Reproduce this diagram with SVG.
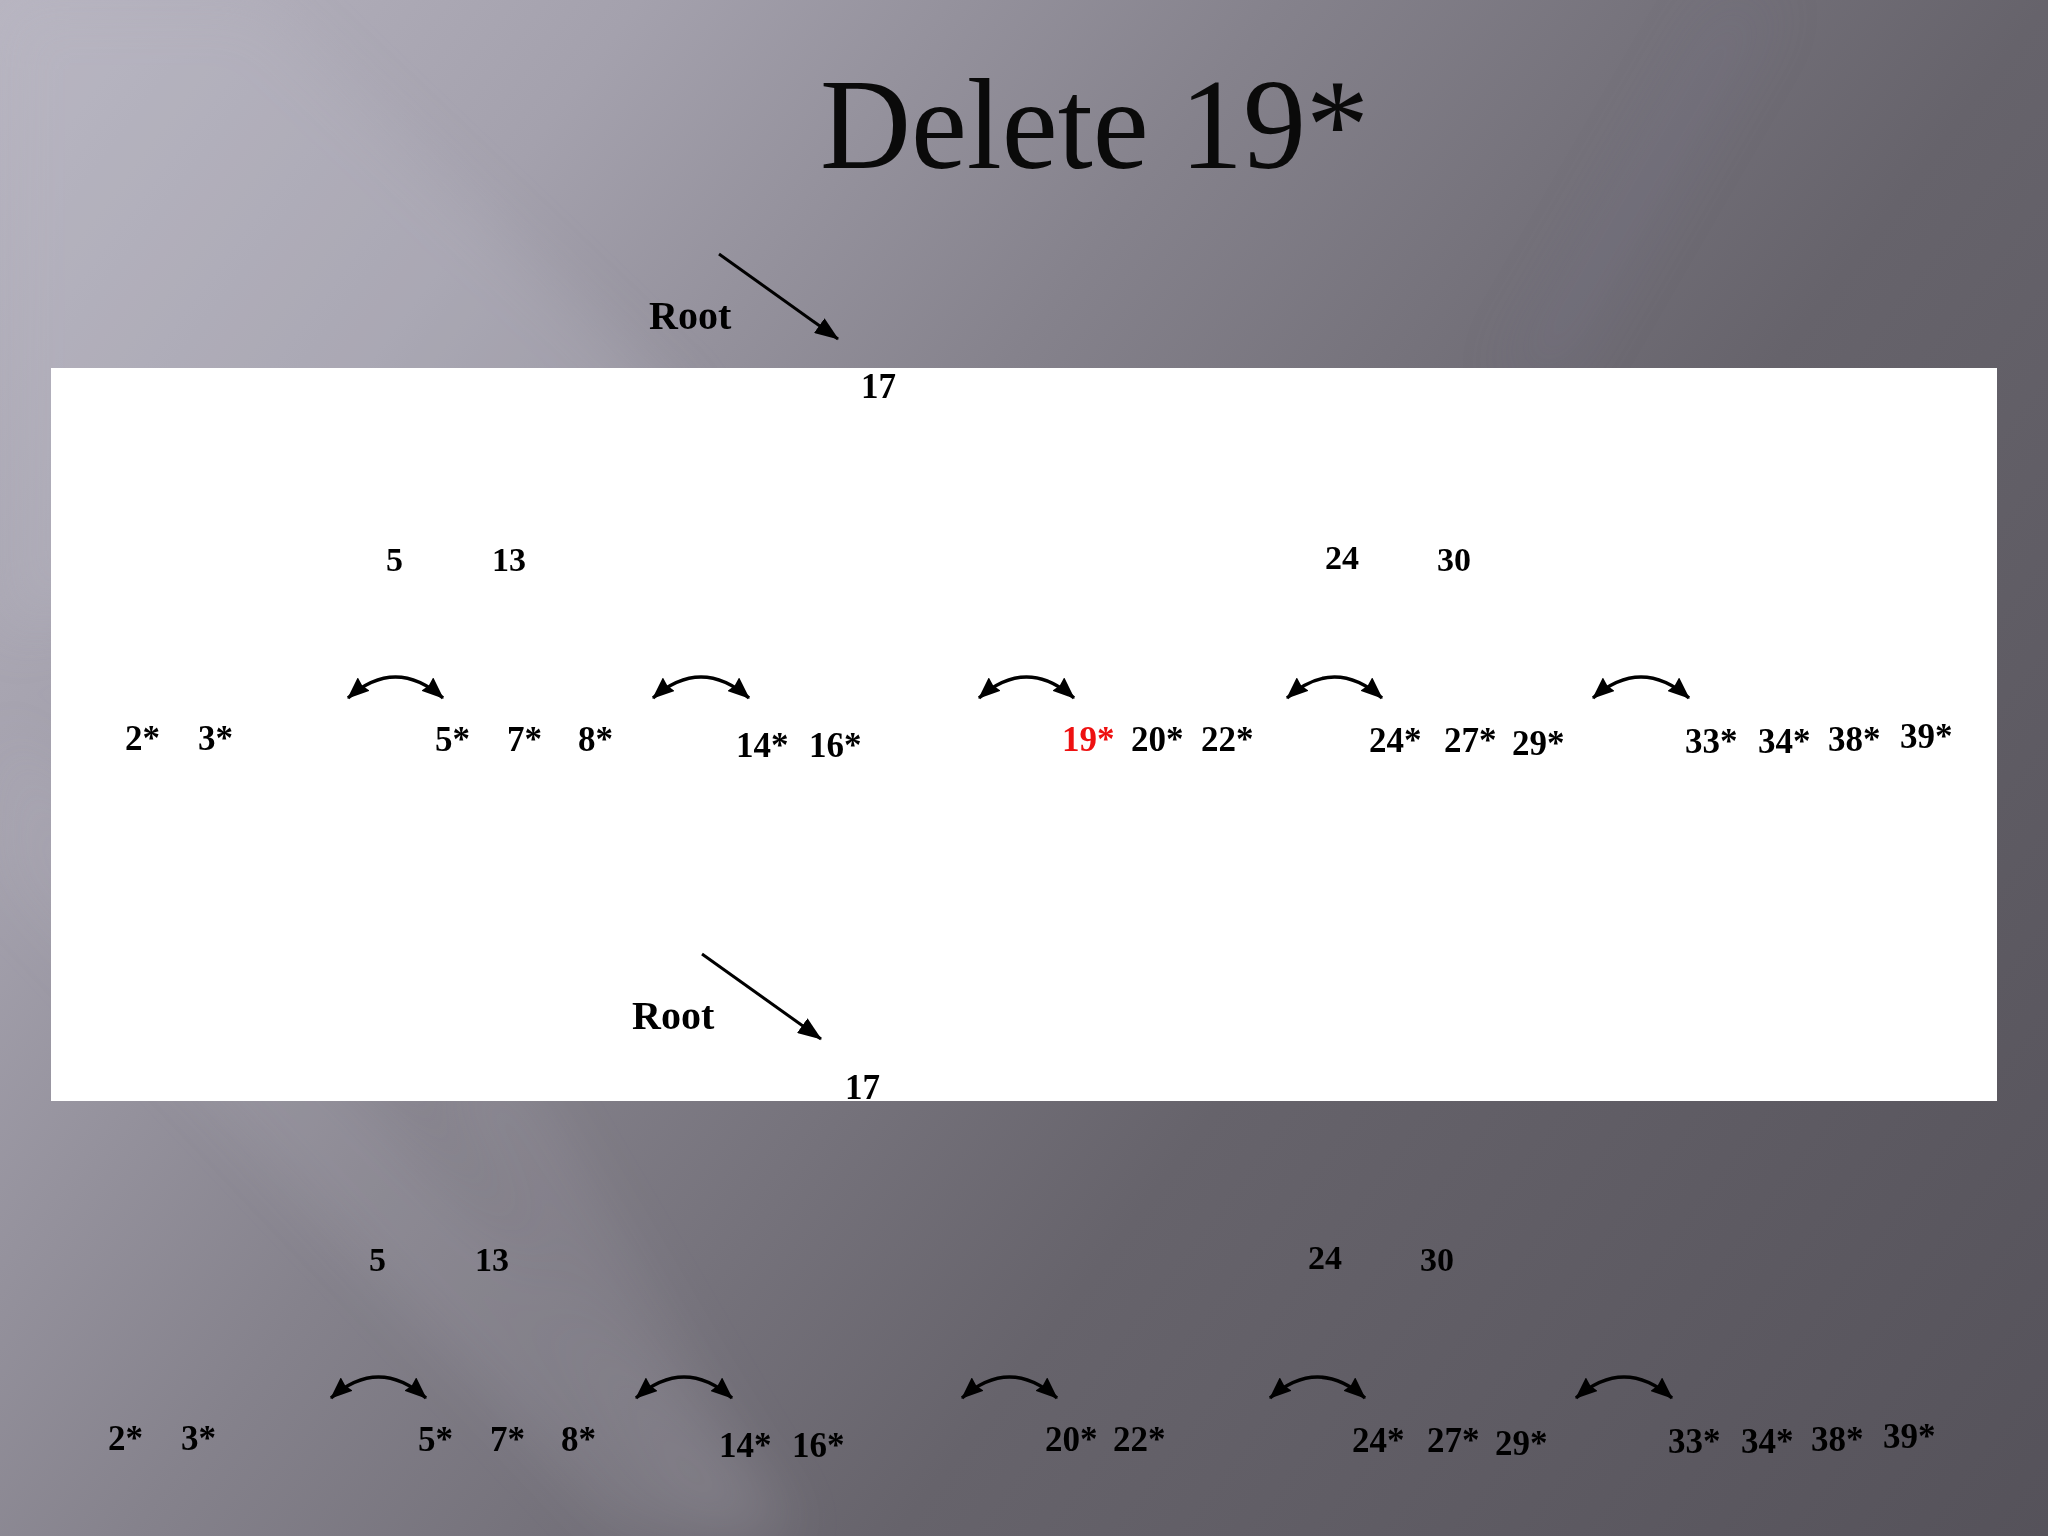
<svg xmlns="http://www.w3.org/2000/svg" width="2048" height="1536" viewBox="0 0 2048 1536">
<defs>
<linearGradient id="bg" gradientUnits="userSpaceOnUse" x1="0" y1="0" x2="2048" y2="1536">
<stop offset="0" stop-color="#b8b5c1"/>
<stop offset="0.2" stop-color="#a4a1ad"/>
<stop offset="0.4" stop-color="#85828c"/>
<stop offset="0.64" stop-color="#66636b"/>
<stop offset="1" stop-color="#55525a"/>
</linearGradient>
<filter id="blur" x="-20%" y="-20%" width="140%" height="140%"><feGaussianBlur stdDeviation="30"/></filter>
<marker id="ah" markerUnits="userSpaceOnUse" markerWidth="22" markerHeight="18" viewBox="0 0 22 18" refX="21" refY="9" orient="auto-start-reverse">
<path d="M0,0 L22,9 L0,18 L2,9 z" fill="#000"/>
</marker>
<marker id="ahr" markerUnits="userSpaceOnUse" markerWidth="24" markerHeight="18" viewBox="0 0 24 18" refX="23" refY="9" orient="auto">
<path d="M0,0 L24,9 L0,18 z" fill="#000"/>
</marker>
<style>
.title{font-family:"Liberation Serif","Times New Roman",serif;font-size:130px;fill:#0a0a0a}
.lbl{font-family:"Liberation Serif","Times New Roman",serif;font-weight:bold;font-size:35px;fill:#000}
.inner{font-family:"Liberation Serif","Times New Roman",serif;font-weight:bold;font-size:34px;fill:#000}
.root{font-family:"Liberation Serif","Times New Roman",serif;font-weight:bold;font-size:40px;fill:#000}
.red{fill:#ee1111}
.arc{fill:none;stroke:#000;stroke-width:3.5;marker-start:url(#ah);marker-end:url(#ah)}
.ptr{fill:none;stroke:#000;stroke-width:3;marker-end:url(#ahr)}
</style>
</defs>

<rect x="0" y="0" width="2048" height="1536" fill="url(#bg)"/>
<g filter="url(#blur)" opacity="0.45">
<polygon points="0,0 260,0 700,420 0,640" fill="#bdbac6" opacity="0.6"/>
<polygon points="0,720 0,880 620,1536 800,1536" fill="#c4c1cc" opacity="0.3"/>
<polygon points="420,1060 520,1060 800,1536 700,1536" fill="#c4c1cc" opacity="0.25"/>
<polygon points="1500,380 1560,380 1780,0 1720,0" fill="#7a7890" opacity="0.4"/>
</g>

<rect x="51" y="368" width="1946" height="733" fill="#ffffff"/>

<text class="title" x="820" y="168" textLength="549" lengthAdjust="spacingAndGlyphs">Delete 19*</text>

<g id="connectors">
<line class="ptr" x1="719" y1="254" x2="838" y2="339"/>
<path class="arc" d="M348,698 Q395.5,656 443,698"/>
<path class="arc" d="M653,698 Q701,656 749,698"/>
<path class="arc" d="M979,698 Q1026.5,656 1074,698"/>
<path class="arc" d="M1287,698 Q1334.5,656 1382,698"/>
<path class="arc" d="M1593,698 Q1641,656 1689,698"/>
<line class="ptr" x1="702" y1="954" x2="821" y2="1039"/>
<path class="arc" d="M331,1398 Q378.5,1356 426,1398"/>
<path class="arc" d="M636,1398 Q684,1356 732,1398"/>
<path class="arc" d="M962,1398 Q1009.5,1356 1057,1398"/>
<path class="arc" d="M1270,1398 Q1317.5,1356 1365,1398"/>
<path class="arc" d="M1576,1398 Q1624,1356 1672,1398"/>
</g>

<g id="tree-before">
<g id="root-label-1"><text class="root" x="649" y="329">Root</text></g>
<g id="n17-1"><text class="lbl" x="861" y="398">17</text></g>
<g id="n5-13-1"><text class="inner" x="386" y="571">5</text><text class="inner" x="492" y="571">13</text></g>
<g id="n24-30-1"><text class="inner" x="1325" y="569">24</text><text class="inner" x="1437" y="571">30</text></g>
<g id="leaf-a-1"><text class="lbl" x="125" y="750">2*</text><text class="lbl" x="198" y="750">3*</text></g>
<g id="leaf-b-1"><text class="lbl" x="435" y="751">5*</text><text class="lbl" x="507" y="751">7*</text><text class="lbl" x="578" y="751">8*</text></g>
<g id="leaf-c-1"><text class="lbl" x="736" y="757">14*</text><text class="lbl" x="809" y="757">16*</text></g>
<g id="leaf-d-1"><text class="lbl red" x="1062" y="751">19*</text><text class="lbl" x="1131" y="751">20*</text><text class="lbl" x="1201" y="751">22*</text></g>
<g id="leaf-e-1"><text class="lbl" x="1369" y="752">24*</text><text class="lbl" x="1444" y="752">27*</text><text class="lbl" x="1512" y="755">29*</text></g>
<g id="leaf-f-1"><text class="lbl" x="1685" y="753">33*</text><text class="lbl" x="1758" y="753">34*</text><text class="lbl" x="1828" y="751">38*</text><text class="lbl" x="1900" y="748">39*</text></g>
</g>

<g id="tree-after">
<g id="root-label-2"><text class="root" x="632" y="1029">Root</text></g>
<g id="n17-2"><text class="lbl" x="845" y="1099">17</text></g>
<g id="n5-13-2"><text class="inner" x="369" y="1271">5</text><text class="inner" x="475" y="1271">13</text></g>
<g id="n24-30-2"><text class="inner" x="1308" y="1269">24</text><text class="inner" x="1420" y="1271">30</text></g>
<g id="leaf-a-2"><text class="lbl" x="108" y="1450">2*</text><text class="lbl" x="181" y="1450">3*</text></g>
<g id="leaf-b-2"><text class="lbl" x="418" y="1451">5*</text><text class="lbl" x="490" y="1451">7*</text><text class="lbl" x="561" y="1451">8*</text></g>
<g id="leaf-c-2"><text class="lbl" x="719" y="1457">14*</text><text class="lbl" x="792" y="1457">16*</text></g>
<g id="leaf-d-2"><text class="lbl" x="1045" y="1451">20*</text><text class="lbl" x="1113" y="1451">22*</text></g>
<g id="leaf-e-2"><text class="lbl" x="1352" y="1452">24*</text><text class="lbl" x="1427" y="1452">27*</text><text class="lbl" x="1495" y="1455">29*</text></g>
<g id="leaf-f-2"><text class="lbl" x="1668" y="1453">33*</text><text class="lbl" x="1741" y="1453">34*</text><text class="lbl" x="1811" y="1451">38*</text><text class="lbl" x="1883" y="1448">39*</text></g>
</g>
</svg>
